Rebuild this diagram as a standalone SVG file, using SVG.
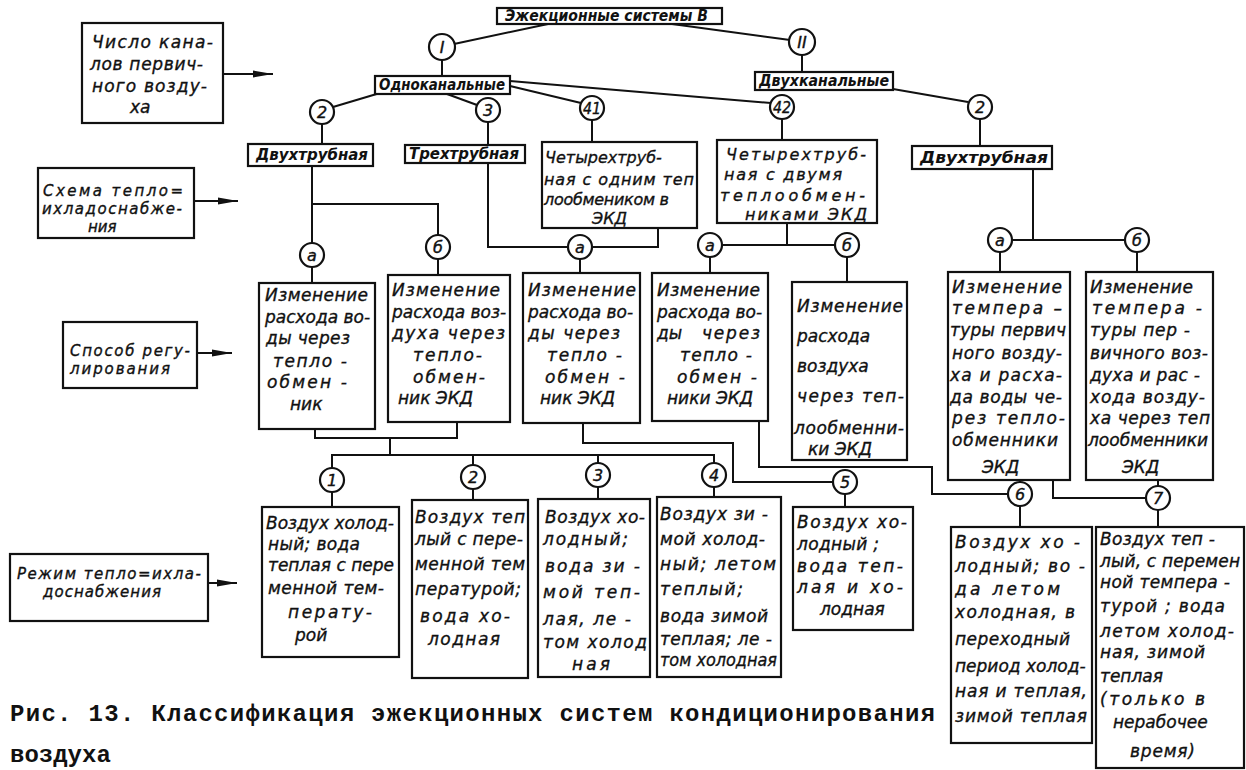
<svg xmlns="http://www.w3.org/2000/svg" width="1246" height="770" viewBox="0 0 1246 770">
<style>
.b{fill:#fff;stroke:#111;stroke-width:2.2}
.c{fill:none;stroke:#111;stroke-width:2}
.ci{fill:#fff;stroke:#111;stroke-width:2.2}
text{font-family:"DejaVu Sans","Liberation Sans",sans-serif;font-style:italic;fill:#111}
.t{font-size:17px;stroke:#111;stroke-width:0.35}
.m{font-size:16px;stroke:#111;stroke-width:0.35}
.l{font-size:15px;stroke:#111;stroke-width:0.35}
.h{font-size:15px;font-weight:bold}
.n{font-size:16px;text-anchor:middle;stroke:#111;stroke-width:0.4}
.cap{font-family:"Liberation Mono","DejaVu Sans Mono",monospace;font-style:normal;font-weight:bold;font-size:24px}
</style>
<defs>
<marker id="ar" markerWidth="20" markerHeight="8" refX="20" refY="4" orient="auto" markerUnits="userSpaceOnUse"><path d="M0,0.5 L20,4 L0,7.5 z" fill="#111"/></marker>
</defs>
<rect width="1246" height="770" fill="#fff"/>

<g id="connectors">
<line class="c" x1="548" y1="24" x2="454" y2="44"/>
<line class="c" x1="672" y1="24" x2="790" y2="40"/>
<line class="c" x1="442" y1="60" x2="442" y2="76"/>
<line class="c" x1="802" y1="55" x2="802" y2="72"/>
<line class="c" x1="380" y1="93" x2="333" y2="107"/>
<line class="c" x1="447" y1="94" x2="477" y2="105"/>
<line class="c" x1="510" y1="86" x2="581" y2="103"/>
<line class="c" x1="510" y1="81" x2="771" y2="103"/>
<line class="c" x1="893" y1="89" x2="968" y2="102"/>
<line class="c" x1="322" y1="124" x2="322" y2="144"/>
<line class="c" x1="488" y1="122" x2="488" y2="145"/>
<line class="c" x1="592" y1="120" x2="592" y2="142"/>
<line class="c" x1="782" y1="119" x2="782" y2="140"/>
<line class="c" x1="980" y1="119" x2="980" y2="146"/>
<polyline class="c" points="312,166 312,243"/>
<polyline class="c" points="312,204 438,204 438,235"/>
<polyline class="c" points="488,163 488,247 568,247"/>
<polyline class="c" points="658,228 658,247 592,247"/>
<polyline class="c" points="787,223 787,245"/>
<polyline class="c" points="722,245 835,245"/>
<polyline class="c" points="1033,169 1033,240"/>
<polyline class="c" points="1012,240 1125,240"/>
<line class="c" x1="312" y1="267" x2="312" y2="283"/>
<line class="c" x1="438" y1="259" x2="438" y2="275"/>
<line class="c" x1="580" y1="259" x2="580" y2="273"/>
<line class="c" x1="710" y1="257" x2="710" y2="273"/>
<line class="c" x1="847" y1="257" x2="847" y2="282"/>
<line class="c" x1="1000" y1="252" x2="1000" y2="272"/>
<line class="c" x1="1137" y1="252" x2="1137" y2="272"/>
<polyline class="c" points="315,429 315,438 457,438 457,422"/>
<polyline class="c" points="390,438 390,455"/>
<polyline class="c" points="332,468 332,455 714,455 714,463"/>
<line class="c" x1="473" y1="455" x2="473" y2="465"/>
<line class="c" x1="598" y1="455" x2="598" y2="463"/>
<line class="c" x1="332" y1="492" x2="332" y2="507"/>
<line class="c" x1="473" y1="489" x2="473" y2="500"/>
<line class="c" x1="598" y1="487" x2="598" y2="499"/>
<line class="c" x1="714" y1="487" x2="714" y2="497"/>
<polyline class="c" points="583,423 583,443 733,443 733,482 833,482"/>
<line class="c" x1="845" y1="494" x2="845" y2="507"/>
<polyline class="c" points="759,421 759,467 932,467 932,494 1008,494"/>
<line class="c" x1="1020" y1="480" x2="1020" y2="482"/>
<line class="c" x1="1020" y1="506" x2="1020" y2="527"/>
<polyline class="c" points="1053,480 1053,498 1146,498"/>
<line class="c" x1="1158" y1="480" x2="1158" y2="486"/>
<line class="c" x1="1158" y1="510" x2="1158" y2="527"/>
<line class="c" x1="223" y1="74" x2="273" y2="74" marker-end="url(#ar)"/>
<line class="c" x1="194" y1="201" x2="238" y2="201" marker-end="url(#ar)"/>
<line class="c" x1="197" y1="353" x2="232" y2="353" marker-end="url(#ar)"/>
<line class="c" x1="208" y1="583" x2="237" y2="583" marker-end="url(#ar)"/>
</g>

<g id="label1"><rect class="b" x="82" y="23" width="141" height="100"/>
<text class="t" x="92" y="48" textLength="121" lengthAdjust="spacing">Число кана-</text>
<text class="t" x="90" y="70" textLength="113" lengthAdjust="spacing">лов первич-</text>
<text class="t" x="92" y="92" textLength="115" lengthAdjust="spacing">ного возду-</text>
<text class="t" x="130" y="113">ха</text></g>

<g id="label2"><rect class="b" x="38" y="168" width="156" height="70"/>
<text class="l" x="43" y="196" textLength="140" lengthAdjust="spacing">Схема тепло=</text>
<text class="l" x="42" y="214" textLength="140" lengthAdjust="spacing">ихладоснабже-</text>
<text class="l" x="88" y="232">ния</text></g>

<g id="label3"><rect class="b" x="63" y="322" width="134" height="66"/>
<text class="l" x="70" y="356" textLength="120" lengthAdjust="spacing">Способ регу-</text>
<text class="l" x="70" y="374" textLength="100" lengthAdjust="spacing">лирования</text></g>

<g id="label4"><rect class="b" x="10" y="554" width="198" height="67"/>
<text class="l" x="17" y="579" textLength="184" lengthAdjust="spacing">Режим тепло=ихла-</text>
<text class="l" x="43" y="597" textLength="118" lengthAdjust="spacing">доснабжения</text></g>

<g id="root"><rect class="b" x="497" y="8" width="225" height="16"/>
<text class="h" x="505" y="21" textLength="203" lengthAdjust="spacingAndGlyphs">Эжекционные системы В</text></g>
<g id="cI"><circle class="ci" cx="442" cy="47" r="13"/><text class="n" x="442" y="53">I</text></g>
<g id="cII"><circle class="ci" cx="802" cy="42" r="13"/><text class="n" x="802" y="48">II</text></g>

<g id="single"><rect class="b" x="375" y="76" width="135" height="18"/>
<text class="h" x="379" y="90" textLength="126" lengthAdjust="spacingAndGlyphs">Одноканальные</text></g>
<g id="dual"><rect class="b" x="755" y="72" width="138" height="18"/>
<text class="h" x="759" y="86" textLength="130" lengthAdjust="spacingAndGlyphs">Двухканальные</text></g>

<g id="c2a"><circle class="ci" cx="322" cy="112" r="12"/><text class="n" x="322" y="118">2</text></g>
<g id="c3a"><circle class="ci" cx="488" cy="110" r="12"/><text class="n" x="488" y="116">3</text></g>
<g id="c41"><circle class="ci" cx="592" cy="108" r="12"/><text class="n" x="592" y="114" textLength="18" lengthAdjust="spacingAndGlyphs">41</text></g>
<g id="c42"><circle class="ci" cx="782" cy="107" r="12"/><text class="n" x="782" y="113" textLength="18" lengthAdjust="spacingAndGlyphs">42</text></g>
<g id="c2b"><circle class="ci" cx="980" cy="107" r="12"/><text class="n" x="980" y="113">2</text></g>

<g id="twopipe1"><rect class="b" x="248" y="144" width="125" height="22"/>
<text class="h" x="256" y="160" textLength="112" lengthAdjust="spacingAndGlyphs">Двухтрубная</text></g>
<g id="threepipe"><rect class="b" x="405" y="145" width="120" height="18"/>
<text class="h" x="409" y="159" textLength="110" lengthAdjust="spacingAndGlyphs">Трехтрубная</text></g>
<g id="fourpipe1"><rect class="b" x="542" y="142" width="155" height="86"/>
<text class="m" x="545" y="163">Четырехтруб-</text>
<text class="m" x="544" y="185" textLength="150" lengthAdjust="spacing">ная с одним теп</text>
<text class="m" x="544" y="205" textLength="125" lengthAdjust="spacing">лообмеником в</text>
<text class="m" x="592" y="224">ЭКД</text></g>
<g id="fourpipe2"><rect class="b" x="717" y="140" width="160" height="83"/>
<text class="m" x="726" y="160" textLength="140" lengthAdjust="spacing">Четырехтруб-</text>
<text class="m" x="724" y="180" textLength="118" lengthAdjust="spacing">ная с двумя</text>
<text class="m" x="720" y="201" textLength="145" lengthAdjust="spacing">теплообмен-</text>
<text class="m" x="745" y="220" textLength="122" lengthAdjust="spacing">никами ЭКД</text></g>
<g id="twopipe2"><rect class="b" x="912" y="146" width="140" height="23"/>
<text class="h" x="920" y="163" textLength="128" lengthAdjust="spacingAndGlyphs">Двухтрубная</text></g>

<g id="ca1"><circle class="ci" cx="312" cy="255" r="12"/><text class="n" x="312" y="261">а</text></g>
<g id="cb1"><circle class="ci" cx="438" cy="247" r="12"/><text class="n" x="438" y="253">б</text></g>
<g id="ca2"><circle class="ci" cx="580" cy="247" r="12"/><text class="n" x="580" y="253">а</text></g>
<g id="ca3"><circle class="ci" cx="710" cy="245" r="12"/><text class="n" x="710" y="251">а</text></g>
<g id="cb3"><circle class="ci" cx="847" cy="245" r="12"/><text class="n" x="847" y="251">б</text></g>
<g id="ca4"><circle class="ci" cx="1000" cy="240" r="12"/><text class="n" x="1000" y="246">а</text></g>
<g id="cb4"><circle class="ci" cx="1137" cy="240" r="12"/><text class="n" x="1137" y="246">б</text></g>

<g id="regA1"><rect class="b" x="259" y="283" width="116" height="146"/>
<text class="t" x="265" y="301" textLength="103" lengthAdjust="spacing">Изменение</text>
<text class="t" x="265" y="323">расхода во-</text>
<text class="t" x="266" y="344" textLength="84" lengthAdjust="spacing">ды через</text>
<text class="t" x="273" y="367" textLength="74" lengthAdjust="spacing">тепло -</text>
<text class="t" x="267" y="388" textLength="80" lengthAdjust="spacing">обмен -</text>
<text class="t" x="290" y="410">ник</text></g>
<g id="regB1"><rect class="b" x="388" y="275" width="122" height="147"/>
<text class="t" x="392" y="296" textLength="108" lengthAdjust="spacing">Изменение</text>
<text class="t" x="392" y="318">расхода воз-</text>
<text class="t" x="392" y="339" textLength="113" lengthAdjust="spacing">духа через</text>
<text class="t" x="413" y="361" textLength="69" lengthAdjust="spacing">тепло-</text>
<text class="t" x="413" y="383" textLength="72" lengthAdjust="spacing">обмен-</text>
<text class="t" x="398" y="404">ник ЭКД</text></g>
<g id="regA2"><rect class="b" x="523" y="273" width="117" height="150"/>
<text class="t" x="528" y="296" textLength="108" lengthAdjust="spacing">Изменение</text>
<text class="t" x="528" y="318">расхода во-</text>
<text class="t" x="528" y="339" textLength="92" lengthAdjust="spacing">ды через</text>
<text class="t" x="547" y="361" textLength="75" lengthAdjust="spacing">тепло -</text>
<text class="t" x="545" y="383" textLength="80" lengthAdjust="spacing">обмен -</text>
<text class="t" x="540" y="404">ник ЭКД</text></g>
<g id="regA3"><rect class="b" x="652" y="273" width="116" height="148"/>
<text class="t" x="657" y="296" textLength="103" lengthAdjust="spacing">Изменение</text>
<text class="t" x="657" y="318">расхода во-</text>
<text class="t" x="657" y="339">ды</text>
<text class="t" x="702" y="339" textLength="58" lengthAdjust="spacing">через</text>
<text class="t" x="680" y="361" textLength="72" lengthAdjust="spacing">тепло -</text>
<text class="t" x="677" y="383" textLength="80" lengthAdjust="spacing">обмен -</text>
<text class="t" x="667" y="404">ники ЭКД</text></g>
<g id="regB3"><rect class="b" x="792" y="282" width="115" height="178"/>
<text class="t" x="797" y="312" textLength="106" lengthAdjust="spacing">Изменение</text>
<text class="t" x="797" y="342">расхода</text>
<text class="t" x="797" y="372">воздуха</text>
<text class="t" x="797" y="402" textLength="107" lengthAdjust="spacing">через теп-</text>
<text class="t" x="794" y="434" textLength="110" lengthAdjust="spacing">лообменни-</text>
<text class="t" x="808" y="455">ки ЭКД</text></g>
<g id="regA4"><rect class="b" x="948" y="272" width="122" height="208"/>
<text class="t" x="952" y="293" textLength="110" lengthAdjust="spacing">Изменение</text>
<text class="t" x="952" y="314" textLength="110" lengthAdjust="spacing">темпера –</text>
<text class="t" x="950" y="336" textLength="116" lengthAdjust="spacing">туры первич</text>
<text class="t" x="952" y="359" textLength="110" lengthAdjust="spacing">ного возду-</text>
<text class="t" x="950" y="381" textLength="112" lengthAdjust="spacing">ха и расха-</text>
<text class="t" x="950" y="403" textLength="112" lengthAdjust="spacing">да воды че-</text>
<text class="t" x="952" y="424" textLength="113" lengthAdjust="spacing">рез тепло-</text>
<text class="t" x="952" y="446" textLength="106" lengthAdjust="spacing">обменники</text>
<text class="t" x="982" y="473">ЭКД</text></g>
<g id="regB4"><rect class="b" x="1086" y="272" width="127" height="208"/>
<text class="t" x="1090" y="293" textLength="103" lengthAdjust="spacing">Изменение</text>
<text class="t" x="1092" y="314" textLength="110" lengthAdjust="spacing">темпера -</text>
<text class="t" x="1090" y="336" textLength="100" lengthAdjust="spacing">туры пер -</text>
<text class="t" x="1090" y="359" textLength="118" lengthAdjust="spacing">вичного воз-</text>
<text class="t" x="1090" y="381" textLength="110" lengthAdjust="spacing">духа и рас -</text>
<text class="t" x="1090" y="403" textLength="115" lengthAdjust="spacing">хода возду-</text>
<text class="t" x="1090" y="424" textLength="120" lengthAdjust="spacing">ха через теп</text>
<text class="t" x="1088" y="446">лообменники</text>
<text class="t" x="1122" y="473">ЭКД</text></g>

<g id="c1"><circle class="ci" cx="332" cy="480" r="12"/><text class="n" x="332" y="486">1</text></g>
<g id="c2"><circle class="ci" cx="473" cy="477" r="12"/><text class="n" x="473" y="483">2</text></g>
<g id="c3"><circle class="ci" cx="598" cy="475" r="12"/><text class="n" x="598" y="481">3</text></g>
<g id="c4"><circle class="ci" cx="714" cy="475" r="12"/><text class="n" x="714" y="481">4</text></g>
<g id="c5"><circle class="ci" cx="845" cy="482" r="12"/><text class="n" x="845" y="488">5</text></g>
<g id="c6"><circle class="ci" cx="1020" cy="494" r="12"/><text class="n" x="1020" y="500">6</text></g>
<g id="c7"><circle class="ci" cx="1158" cy="498" r="12"/><text class="n" x="1158" y="504">7</text></g>

<g id="mode1"><rect class="b" x="262" y="507" width="137" height="150"/>
<text class="t" x="266" y="529">Воздух холод-</text>
<text class="t" x="268" y="550" textLength="92" lengthAdjust="spacing">ный; вода</text>
<text class="t" x="268" y="571" textLength="126" lengthAdjust="spacing">теплая с пере</text>
<text class="t" x="268" y="594" textLength="116" lengthAdjust="spacing">менной тем-</text>
<text class="t" x="288" y="618" textLength="84" lengthAdjust="spacing">перату-</text>
<text class="t" x="295" y="641">рой</text></g>
<g id="mode2"><rect class="b" x="412" y="500" width="116" height="178"/>
<text class="t" x="415" y="523" textLength="110" lengthAdjust="spacing">Воздух теп</text>
<text class="t" x="415" y="545" textLength="108" lengthAdjust="spacing">лый с пере-</text>
<text class="t" x="415" y="570" textLength="110" lengthAdjust="spacing">менной тем</text>
<text class="t" x="415" y="595" textLength="106" lengthAdjust="spacing">пературой;</text>
<text class="t" x="420" y="622" textLength="90" lengthAdjust="spacing">вода хо-</text>
<text class="t" x="428" y="645" textLength="72" lengthAdjust="spacing">лодная</text></g>
<g id="mode3"><rect class="b" x="538" y="499" width="112" height="178"/>
<text class="t" x="545" y="523" textLength="100" lengthAdjust="spacing">Воздух хо-</text>
<text class="t" x="543" y="545" textLength="85" lengthAdjust="spacing">лодный;</text>
<text class="t" x="545" y="572" textLength="95" lengthAdjust="spacing">вода зи -</text>
<text class="t" x="543" y="598" textLength="97" lengthAdjust="spacing">мой теп-</text>
<text class="t" x="543" y="625" textLength="88" lengthAdjust="spacing">лая, ле -</text>
<text class="t" x="543" y="648" textLength="104" lengthAdjust="spacing">том холод</text>
<text class="t" x="572" y="670" textLength="38" lengthAdjust="spacing">ная</text></g>
<g id="mode4"><rect class="b" x="657" y="497" width="124" height="180"/>
<text class="t" x="660" y="520" textLength="108" lengthAdjust="spacing">Воздух зи -</text>
<text class="t" x="660" y="545" textLength="105" lengthAdjust="spacing">мой холод-</text>
<text class="t" x="660" y="570" textLength="116" lengthAdjust="spacing">ный; летом</text>
<text class="t" x="660" y="595" textLength="83" lengthAdjust="spacing">теплый;</text>
<text class="t" x="660" y="622" textLength="108" lengthAdjust="spacing">вода зимой</text>
<text class="t" x="660" y="645" textLength="112" lengthAdjust="spacing">теплая; ле -</text>
<text class="t" x="660" y="666" textLength="117" lengthAdjust="spacingAndGlyphs">том холодная</text></g>
<g id="mode5"><rect class="b" x="793" y="507" width="120" height="123"/>
<text class="t" x="797" y="528" textLength="110" lengthAdjust="spacing">Воздух хо-</text>
<text class="t" x="797" y="550" textLength="82" lengthAdjust="spacing">лодный ;</text>
<text class="t" x="797" y="572" textLength="106" lengthAdjust="spacing">вода теп-</text>
<text class="t" x="797" y="593" textLength="106" lengthAdjust="spacing">лая и хо-</text>
<text class="t" x="820" y="615">лодная</text></g>
<g id="mode6"><rect class="b" x="951" y="527" width="141" height="216"/>
<text class="t" x="955" y="548" textLength="125" lengthAdjust="spacing">Воздух хо -</text>
<text class="t" x="955" y="572" textLength="130" lengthAdjust="spacing">лодный; во -</text>
<text class="t" x="955" y="595" textLength="105" lengthAdjust="spacing">да летом</text>
<text class="t" x="955" y="618" textLength="120" lengthAdjust="spacing">холодная, в</text>
<text class="t" x="955" y="645" textLength="115" lengthAdjust="spacing">переходный</text>
<text class="t" x="955" y="672">период холод-</text>
<text class="t" x="955" y="697" textLength="132" lengthAdjust="spacing">ная и теплая,</text>
<text class="t" x="955" y="722" textLength="132" lengthAdjust="spacing">зимой теплая</text></g>
<g id="mode7"><rect class="b" x="1096" y="527" width="148" height="241"/>
<text class="t" x="1100" y="545" textLength="115" lengthAdjust="spacing">Воздух теп -</text>
<text class="t" x="1100" y="567" textLength="140" lengthAdjust="spacing">лый, с перемен</text>
<text class="t" x="1100" y="588" textLength="130" lengthAdjust="spacing">ной темпера -</text>
<text class="t" x="1100" y="612" textLength="125" lengthAdjust="spacing">турой ; вода</text>
<text class="t" x="1100" y="637" textLength="134" lengthAdjust="spacing">летом холод-</text>
<text class="t" x="1100" y="658" textLength="105" lengthAdjust="spacing">ная, зимой</text>
<text class="t" x="1100" y="682">теплая</text>
<text class="t" x="1100" y="705" textLength="105" lengthAdjust="spacing">(только в</text>
<text class="t" x="1113" y="728">нерабочее</text>
<text class="t" x="1130" y="757" textLength="65" lengthAdjust="spacing">время)</text></g>

<g id="caption">
<text class="cap" x="10" y="721" textLength="925" lengthAdjust="spacing">Рис. 13. Классификация эжекционных систем кондиционирования</text>
<text class="cap" x="10" y="762">воздуха</text>
</g>
</svg>
